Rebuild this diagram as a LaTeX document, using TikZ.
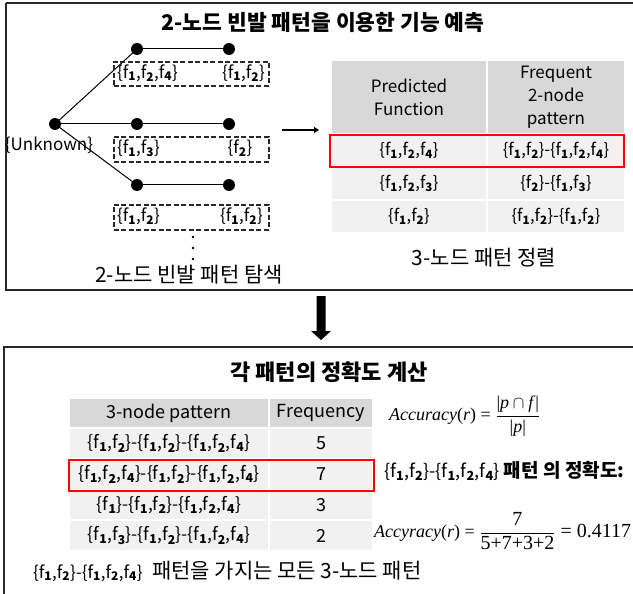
\documentclass[tikz,border=0pt]{standalone}
\usepackage{fontspec}
\setmainfont{Noto Sans CJK KR}
\newfontfamily\tms{Liberation Serif}
\usetikzlibrary{arrows.meta}

% f with a numeric subscript, e.g. \fsub1 -> f_1
\newcommand{\fsub}[1]{f\textsubscript{\bfseries #1}}

\definecolor{hdrgray}{RGB}{216,216,216}
\definecolor{rowgray}{RGB}{241,241,241}
\definecolor{framegray}{RGB}{40,40,40}

\tikzset{
  frame/.style={draw=framegray, line width=1.6pt},
  ttl/.style={font=\fontsize{21.5}{24}\selectfont\bfseries, inner sep=0pt},
  captxt/.style={font=\fontsize{21}{24}\selectfont, inner sep=0pt},
  lbl/.style={font=\fontsize{17}{20}\selectfont, inner sep=0pt},
  dot/.style={circle, fill=black, minimum size=12pt, inner sep=0pt},
  tinydot/.style={circle, fill=black, minimum size=2.6pt, inner sep=0pt},
  dbox/.style={draw=framegray, dashed, dash pattern=on 5pt off 2.5pt, line width=1.6pt,
    anchor=north west, inner sep=0pt},
  branch/.style={line width=1pt},
  hcell/.style={fill=hdrgray, draw=white, line width=2pt, anchor=north west,
    inner sep=0pt, align=center, font=\fontsize{17}{23}\selectfont},
  rcell/.style={fill=rowgray, draw=white, line width=2pt, anchor=north west,
    inner sep=0pt, align=center, font=\fontsize{16.5}{19}\selectfont},
  bcell/.style={rcell, font=\fontsize{17.5}{20}\selectfont},
  hilite/.style={draw=red, line width=1.8pt, anchor=north west, inner sep=0pt},
  fml/.style={font=\tms\fontsize{18}{21}\selectfont, inner sep=0pt, anchor=west},
}

\begin{document}
\begin{tikzpicture}[x=1pt, y=-1pt]
\useasboundingbox (0,0) rectangle (633,594);

% ---------- upper panel ----------
\draw[frame] (6,3) -- (660,3) (6,3) -- (6,290) -- (660,290);
\node[ttl] (title1) at (323,22) {2-노드 빈발 패턴을 이용한 기능 예측};

% tree of 2-node patterns
\node[dot] (root) at (55,124) {};
\node[lbl] (unk) at (49,145) {\{Unknown\}};
\node[dot] (a1) at (137,49) {};
\node[dot] (b1) at (229,49) {};
\node[dot] (a2) at (137,124) {};
\node[dot] (b2) at (229,124) {};
\node[dot] (a3) at (137,185) {};
\node[dot] (b3) at (229,185) {};
\draw[branch] (root.center) -- (a1.center);
\draw[branch] (root.center) -- (a2.center);
\draw[branch] (root.center) -- (a3.center);
\draw[branch] (a1) -- (b1);
\draw[branch] (a2) -- (b2);
\draw[branch] (a3) -- (b3);

\node[dbox, minimum width=155pt, minimum height=24pt] (box1) at (113,61) {};
\node[dbox, minimum width=155pt, minimum height=25pt] (box2) at (113,136) {};
\node[dbox, minimum width=155pt, minimum height=25pt] (box3) at (113,204) {};
\node[lbl, anchor=west] (l1) at (117,73) {\{\fsub1,\fsub2,\fsub4\}};
\node[lbl, anchor=east] (r1) at (265,73) {\{\fsub1,\fsub2\}};
\node[lbl, anchor=west] (l2) at (117,148.5) {\{\fsub1,\fsub3\}};
\node[lbl] (r2) at (240,148.5) {\{\fsub2\}};
\node[lbl, anchor=west] (l3) at (117,216.5) {\{\fsub1,\fsub2\}};
\node[lbl, anchor=east] (r3) at (263,216.5) {\{\fsub1,\fsub2\}};

\node[tinydot] (v1) at (193,237) {};
\node[tinydot] (v2) at (193,248) {};
\node[tinydot] (v3) at (193,259) {};
\node[captxt] (cap1) at (189,275) {2-노드 빈발 패턴 탐색};

% arrow to the sorted table
\coordinate (ar1) at (282,130);
\coordinate (ar2) at (319,130);
\draw[line width=2.2pt, -{Triangle[length=5pt, width=6pt]}] (ar1) -- (ar2);

% sorted 3-node table
\node[hcell, minimum width=156pt, minimum height=74pt] (h11) at (330,59) {Predicted\\Function};
\node[hcell, minimum width=138pt, minimum height=74pt] (h12) at (486,59) {Frequent\\2-node\\pattern};
\node[rcell, minimum width=156pt, minimum height=33pt] (c11) at (330,133) {\{\fsub1,\fsub2,\fsub4\}};
\node[rcell, minimum width=138pt, minimum height=33pt] (c12) at (486,133) {\{\fsub1,\fsub2\}-\{\fsub1,\fsub2,\fsub4\}};
\node[rcell, minimum width=156pt, minimum height=33pt] (c21) at (330,166) {\{\fsub1,\fsub2,\fsub3\}};
\node[rcell, minimum width=138pt, minimum height=33pt] (c22) at (486,166) {\{\fsub2\}-\{\fsub1,\fsub3\}};
\node[rcell, minimum width=156pt, minimum height=33pt] (c31) at (330,199) {\{\fsub1,\fsub2\}};
\node[rcell, minimum width=138pt, minimum height=33pt] (c32) at (486,199) {\{\fsub1,\fsub2\}-\{\fsub1,\fsub2\}};
\node[hilite, minimum width=294pt, minimum height=32pt] (hl1) at (329,134) {};
\node[captxt] (cap2) at (484,258) {3-노드 패턴 정렬};

% ---------- block arrow between panels ----------
\fill[black] (316.5,296) -- (325.5,296) -- (325.5,331) -- (331,331) -- (321,340)
  -- (311,331) -- (316.5,331) -- cycle;

% ---------- lower panel ----------
\draw[frame] (4,600) -- (4,347) -- (660,347);
\node[ttl, font=\fontsize{22}{24}\selectfont\bfseries] (title2) at (329,372) {각 패턴의 정확도 계산};

\node[hcell, minimum width=200pt, minimum height=30pt, font=\fontsize{18}{20}\selectfont] (p0) at (68,397) {3-node pattern};
\node[hcell, minimum width=104pt, minimum height=30pt, font=\fontsize{18}{20}\selectfont] (q0) at (268,397) {Frequency};
\node[bcell, minimum width=200pt, minimum height=31pt] (p1) at (68,427) {\{\fsub1,\fsub2\}-\{\fsub1,\fsub2\}-\{\fsub1,\fsub2,\fsub4\}};
\node[bcell, minimum width=104pt, minimum height=31pt, font=\fontsize{18}{20}\selectfont] (q1) at (268,427) {5};
\node[bcell, minimum width=200pt, minimum height=31pt] (p2) at (68,458) {\{\fsub1,\fsub2,\fsub4\}-\{\fsub1,\fsub2\}-\{\fsub1,\fsub2,\fsub4\}};
\node[bcell, minimum width=104pt, minimum height=31pt, font=\fontsize{18}{20}\selectfont] (q2) at (268,458) {7};
\node[bcell, minimum width=200pt, minimum height=30pt] (p3) at (68,489) {\{\fsub1\}-\{\fsub1,\fsub2\}-\{\fsub1,\fsub2,\fsub4\}};
\node[bcell, minimum width=104pt, minimum height=30pt, font=\fontsize{18}{20}\selectfont] (q3) at (268,489) {3};
\node[bcell, minimum width=200pt, minimum height=31pt] (p4) at (68,519) {\{\fsub1,\fsub3\}-\{\fsub1,\fsub2\}-\{\fsub1,\fsub2,\fsub4\}};
\node[bcell, minimum width=104pt, minimum height=31pt, font=\fontsize{18}{20}\selectfont] (q4) at (268,519) {2};
\node[hilite, minimum width=305pt, minimum height=31pt] (hl2) at (68,459) {};

\node[captxt, anchor=west] (cap3) at (33,571)
  {{\fontsize{17}{20}\selectfont\{\fsub1,\fsub2\}-\{\fsub1,\fsub2,\fsub4\}}\ \ 패턴을 가지는 모든 3-노드 패턴};

% accuracy formulas
\node[fml] (eq1) at (389,416) {$\displaystyle \hbox{\itshape Accuracy}\hbox{(\itshape r\/\upshape)} \hbox{ = }
  \frac{\hbox{|\itshape p\/\upshape}\cap\hbox{\itshape f\/\upshape|}}{\hbox{|\itshape p\/\upshape|}}$};
\node[captxt, anchor=west, font=\fontsize{18}{22}\selectfont] (acctxt) at (384,471)
  {\{\fsub1,\fsub2\}-\{\fsub1,\fsub2,\fsub4\} {\fontsize{19}{22}\selectfont\bfseries 패턴 의 정확도:}};
\node[fml] (eq2) at (374,531) {$\displaystyle \hbox{\itshape Accyracy}\hbox{(\itshape r\/\upshape)} \hbox{ = }
  \frac{\hbox{\fontsize{20}{22}\selectfont 7}}{\hbox{\fontsize{20}{22}\selectfont 5+7+3+2}}
  \hbox{\fontsize{20}{22}\selectfont\ = 0.4117}$};
\end{tikzpicture}
\end{document}
